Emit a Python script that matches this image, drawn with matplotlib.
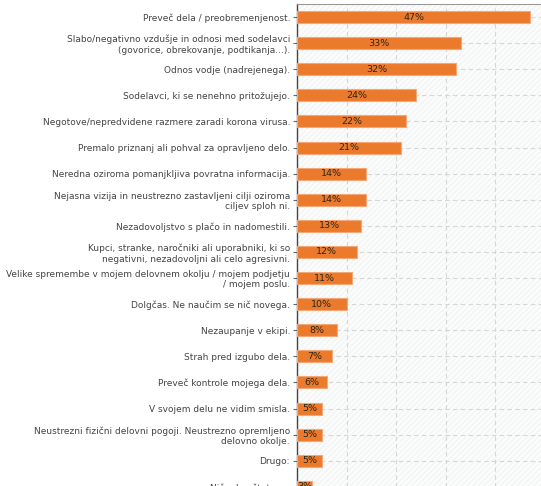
import matplotlib
matplotlib.use("Agg")
import matplotlib.pyplot as plt
from matplotlib.patches import Rectangle

categories = [
    "Preveč dela / preobremenjenost.",
    "Slabo/negativno vzdušje in odnosi med sodelavci\n(govorice, obrekovanje, podtikanja...).",
    "Odnos vodje (nadrejenega).",
    "Sodelavci, ki se nenehno pritožujejo.",
    "Negotove/nepredvidene razmere zaradi korona virusa.",
    "Premalo priznanj ali pohval za opravljeno delo.",
    "Neredna oziroma pomanjkljiva povratna informacija.",
    "Nejasna vizija in neustrezno zastavljeni cilji oziroma\nciljev sploh ni.",
    "Nezadovoljstvo s plačo in nadomestili.",
    "Kupci, stranke, naročniki ali uporabniki, ki so\nnegativni, nezadovoljni ali celo agresivni.",
    "Velike spremembe v mojem delovnem okolju / mojem podjetju\n/ mojem poslu.",
    "Dolgčas. Ne naučim se nič novega.",
    "Nezaupanje v ekipi.",
    "Strah pred izgubo dela.",
    "Preveč kontrole mojega dela.",
    "V svojem delu ne vidim smisla.",
    "Neustrezni fizični delovni pogoji. Neustrezno opremljeno\ndelovno okolje.",
    "Drugo:",
    "Nič od naštetega.",
]
values = [47, 33, 32, 24, 22, 21, 14, 14, 13, 12, 11, 10, 8, 7, 6, 5, 5, 5, 3]
value_labels = [f"{v}%" for v in values]

W, H = 541, 486
fig = plt.figure(figsize=(W / 100, H / 100), dpi=100)
ax_left, ax_right = 297, 545
ax_top = 4
n = len(values)
step = 26.1
ax_bottom = ax_top + n * step
ax = fig.add_axes([ax_left / W, 1 - ax_bottom / H, (ax_right - ax_left) / W, (ax_bottom - ax_top) / H])

ax.set_facecolor("#f5f6f6")
ax.add_patch(Rectangle((0, 0), 1, 1, transform=ax.transAxes, facecolor="none",
                       edgecolor="#ffffff", hatch="//////", linewidth=0, zorder=0))

y = list(range(n))
ax.barh(y, values, height=0.46, color="#ec7a2c", edgecolor="#f4a878",
        linewidth=0.8, zorder=3)
for yi, v, lab in zip(y, values, value_labels):
    ax.text(v / 2, yi, lab, ha="center", va="center", fontsize=6.8,
            color="#2e2618", zorder=4)

ax.set_xlim(0, 50)
ax.set_ylim(n - 0.5, -0.5)
ax.set_xticks([10, 20, 30, 40])
ax.tick_params(axis="x", length=0, labelbottom=False)
ax.set_yticks(y)
ax.set_yticklabels(categories, fontsize=6.5, color="#444444", ha="right", multialignment="right")
ax.tick_params(axis="y", length=3, width=0.8, color="#666666", pad=2)
ax.grid(True, axis="both", color="#d6d6d6", linestyle=(0, (4, 3)), linewidth=0.8, zorder=1)
ax.set_axisbelow(True)
for s in ["right", "bottom"]:
    ax.spines[s].set_visible(False)
ax.spines["left"].set_color("#444444")
ax.spines["left"].set_linewidth(1.0)
ax.spines["top"].set_color("#999999")
ax.spines["top"].set_linewidth(0.8)

fig.savefig("out.png", dpi=100, facecolor="white")
